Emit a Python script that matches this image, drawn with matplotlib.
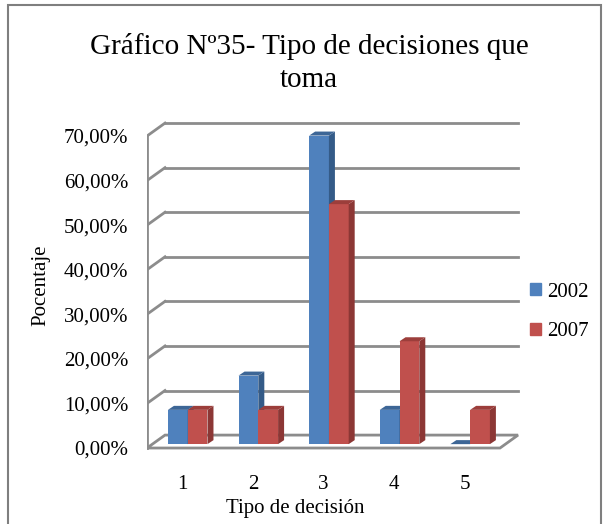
import numpy as np
import matplotlib.pyplot as plt
from matplotlib.patches import Rectangle

plt.rcParams['font.family'] = ['Liberation Serif', 'DejaVu Serif']

# data
categorias = ['1', '2', '3', '4', '5']
anios = ['2002', '2007']
v2002 = [7.69, 15.38, 69.23, 7.69, 0.0]
v2007 = [7.69, 7.69, 53.85, 23.08, 7.69]
yticks = [0, 10, 20, 30, 40, 50, 60, 70]
ytick_labels = ['0,00%', '10,00%', '20,00%', '30,00%', '40,00%', '50,00%', '60,00%', '70,00%']

# colours (excel 2007 style)
caras = ['#4F81BD', '#C0504D']
lados = ['#345B88', '#8C3735']
techos = ['#3D6696', '#9C3E3B']
gris = '#8C8C8C'

# 3d depth of the back wall and the bars, in data units
ddx, ddy = 0.255, 2.9
f = 0.3              # where the bars sit between front and back
bdx, bdy = 0.085, 0.9  # thickness of the bars
w = 0.28
fs = 15

fig = plt.figure(figsize=(6.06, 5.24), dpi=100)
ax = fig.add_axes([147/606, 0.1365, (519.8-147)/606, 0.7702-0.1365])
ax.set_xlim(0.5, 5.78)
ax.set_ylim(-1, 73.5)
for s in ax.spines.values():
    s.set_visible(False)

# walls and grid
x0, x1 = 0.5, 5.5
for v in yticks:
    if v == 0:
        continue
    ax.plot([x0 + ddx, x1 + ddx], [v + ddy, v + ddy], color=gris, lw=2, zorder=1)
    ax.plot([x0, x0 + ddx], [v, v + ddy], color=gris, lw=2, zorder=1)
ax.fill([x0, x1, x1 + ddx, x0 + ddx], [0, 0, ddy, ddy], facecolor='white',
        edgecolor=gris, lw=2, zorder=1)
ax.plot([x0, x0], [0, 70], color=gris, lw=2, zorder=1)

# bars
pos = np.arange(1, len(categorias) + 1)
z = 2
for i in range(len(categorias)):
    for k, vals in enumerate([v2002, v2007]):
        left = pos[i] - w + k * w + f * ddx
        base = f * ddy
        h = vals[i]
        top = base + h
        if h > 0:
            ax.bar(left, h, width=w, bottom=base, align='edge', color=caras[k],
                   linewidth=0, zorder=z)
            ax.fill([left + w, left + w + bdx, left + w + bdx, left + w],
                    [base, base + bdy, top + bdy, top], color=lados[k], lw=0, zorder=z)
        ax.fill([left, left + w, left + w + bdx, left + bdx],
                [top, top, top + bdy, top + bdy], color=techos[k], lw=0, zorder=z)
        z += 1

ax.set_xticks(pos)
ax.set_xticklabels(categorias, fontsize=fs)
ax.set_yticks(yticks)
ax.set_yticklabels(ytick_labels, fontsize=fs)
ax.tick_params(axis='x', length=0, pad=16.5)
ax.tick_params(axis='y', length=0, pad=13.5)

# legend
handles = [Rectangle((0, 0), 1, 1, color=c) for c in caras]
fig.legend(handles, anios, loc='center left', bbox_to_anchor=(511/606, 1 - 312/524),
           frameon=False, fontsize=fs, handlelength=0.55, handleheight=0.55,
           handletextpad=0.3, labelspacing=1.0)

fig.text(309/606, 1 - 47/524, 'Gráfico Nº35- Tipo de decisiones que', ha='center',
         va='center', fontsize=21)
fig.text(309/606, 1 - 80/524, 'toma', ha='center', va='center', fontsize=21)
fig.text(295/606, 1 - 508/524, 'Tipo de decisión', ha='center', va='center', fontsize=fs)
fig.text(41/606, 1 - 285/524, 'Pocentaje', ha='center', va='center', rotation=90,
         fontsize=fs)

# chart area border
fig.patches.append(Rectangle((8/606, -0.05), (601-8)/606, 1 - 5/524 + 0.05,
                             transform=fig.transFigure, fill=False,
                             edgecolor='#7F7F7F', lw=1.5))

fig.savefig('out.png', dpi=100)
